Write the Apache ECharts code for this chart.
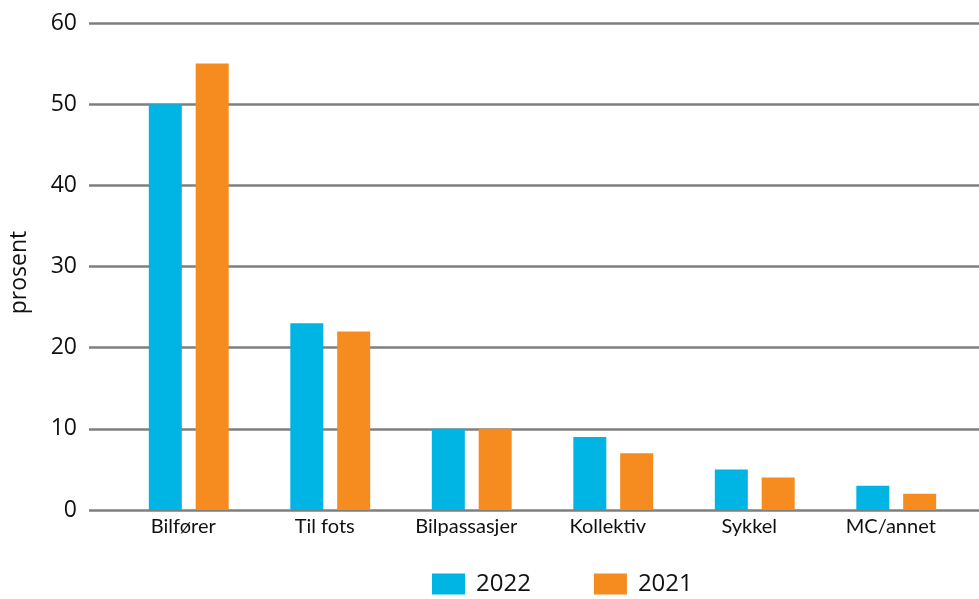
<!DOCTYPE html>
<html><head><meta charset="utf-8">
<script src="https://cdn.jsdelivr.net/npm/echarts@6/dist/echarts.min.js"></script>
<style>html,body{margin:0;padding:0;background:#fff}#c{width:979px;height:599px}</style>
</head><body><div id="c"></div>
<script>
const categories = ['Bilfører', 'Til fots', 'Bilpassasjer', 'Kollektiv', 'Sykkel', 'MC/annet'];
const values2022 = [50, 23, 10, 9, 5, 3];
const values2021 = [55, 22, 10, 7, 4, 2];
const seriesNames = ['2022', '2021'];
const yTicks = { min: 0, max: 60, interval: 10 };

const chart = echarts.init(document.getElementById('c'), null, { renderer: 'canvas' });
const gTop = 23, gBottom = 89;
chart.setOption({
  animation: false,
  grid: [
    { left: 89, right: 0, top: gTop, bottom: gBottom },
    { left: 118, right: 12, top: gTop, bottom: gBottom }
  ],
  xAxis: [
    { gridIndex: 0, type: 'category', data: categories, show: false },
    { gridIndex: 1, type: 'category', data: categories,
      axisLine: { show: false }, axisTick: { show: false },
      axisLabel: { margin: 7, fontSize: 20, color: '#111', fontFamily: 'Lato', padding: [0, 11, 0, 0] } }
  ],
  yAxis: [
    { gridIndex: 0, type: 'value', min: yTicks.min, max: yTicks.max, interval: yTicks.interval,
      name: 'prosent', nameLocation: 'middle', nameGap: 58, nameRotate: 90,
      nameTextStyle: { fontSize: 23, color: '#111', fontFamily: 'Open Sans', padding: [0, 12, 0, 0] },
      axisLine: { show: false }, axisTick: { show: false },
      axisLabel: { fontSize: 23, color: '#111', margin: 12, fontFamily: 'Open Sans' },
      splitLine: { lineStyle: { color: '#7f7f7f', width: 2.5 } } },
    { gridIndex: 1, type: 'value', min: yTicks.min, max: yTicks.max, interval: yTicks.interval, show: false }
  ],
  legend: {
    top: 572, left: 432, padding: 0, itemWidth: 33, itemHeight: 21, itemGap: 63,
    icon: 'rect',
    textStyle: { fontSize: 24, color: '#111', fontFamily: 'Open Sans', padding: [0, 0, 0, 6] },
    data: seriesNames
  },
  series: [
    { name: seriesNames[0], type: 'bar', xAxisIndex: 1, yAxisIndex: 1, data: values2022,
      barWidth: 33, barGap: '42%', itemStyle: { color: '#00b4e4' } },
    { name: seriesNames[1], type: 'bar', xAxisIndex: 1, yAxisIndex: 1, data: values2021,
      barWidth: 33, barGap: '42%', itemStyle: { color: '#f68b1f' } }
  ]
});
</script></body></html>
